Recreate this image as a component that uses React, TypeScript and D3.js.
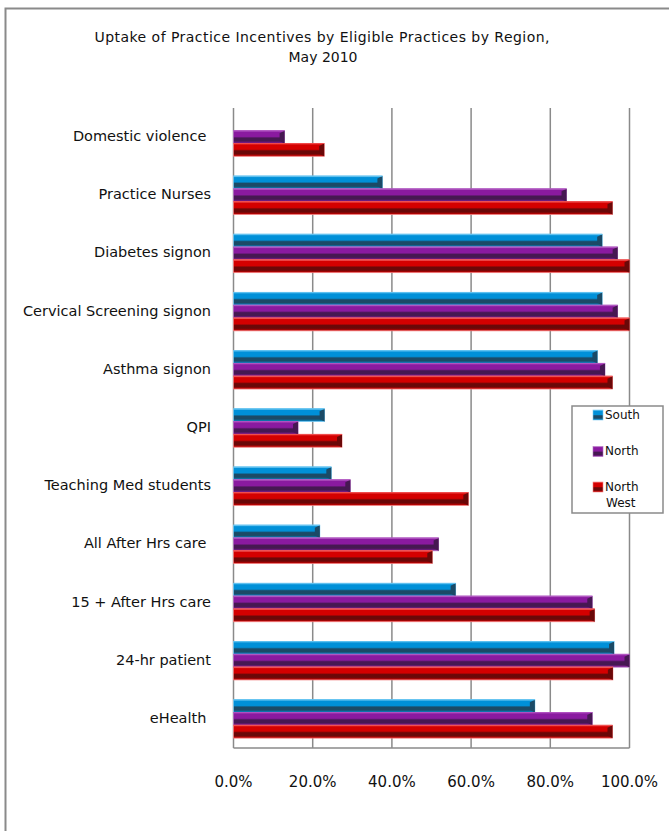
import React from 'react';
import * as d3 from 'd3';

const categories = [
  'Domestic violence ',
  'Practice Nurses',
  'Diabetes signon',
  'Cervical Screening signon',
  'Asthma signon',
  'QPI',
  'Teaching Med students',
  'All After Hrs care ',
  '15 + After Hrs care',
  '24-hr patient',
  'eHealth ',
];
const seriesNames = ['South', 'North', 'North West'];
const south = [0, 37.6, 93.1, 93.1, 91.9, 23.0, 24.7, 21.8, 56.1, 96.1, 76.1];
const north = [12.9, 84.1, 97.0, 97.0, 93.8, 16.3, 29.5, 51.8, 90.6, 100, 90.6];
const northWest = [22.9, 95.7, 100, 100, 95.7, 27.4, 59.3, 50.2, 91.2, 95.8, 95.7];
const ticks = [0, 20, 40, 60, 80, 100];

const colors = [
  { light: '#5cc0f0', main: '#0090d8', dark: '#1b4a66', edge: '#7ccaf0' },
  { light: '#b050c0', main: '#8a1aa0', dark: '#461852', edge: '#b070c0' },
  { light: '#f04848', main: '#d40000', dark: '#6a0808', edge: '#f08080' },
];

const font = '"DejaVu Sans", sans-serif';

const App = () => {
  const W = 669;
  const H = 831;
  const left = 233.5;
  const right = 629.5;
  const top = 108;
  const bottom = 748;

  const x = d3.scaleLinear().domain([0, 100]).range([left, right]);
  const y = d3.scaleBand().domain(categories).range([top, bottom]).paddingInner(0.34).paddingOuter(0.17);
  const inner = d3.scaleBand().domain(seriesNames).range([0, y.bandwidth()]);
  const data = [south, north, northWest];

  const bar = (key: string, x0: number, x1: number, yy: number, h: number, si: number) => {
    const c = colors[si];
    const w = x1 - x0;
    if (w <= 0) return null;
    const ch = Math.min(5, w / 2);
    return (
      <g key={key}>
        <rect x={x0} y={yy} width={w} height={h} fill={`url(#grad${si})`} stroke={c.edge} strokeWidth={0.8} />
        <path
          d={`M${x1 - ch},${yy + 2.5} L${x1},${yy} L${x1},${yy + h} L${x1 - ch},${yy + h - 2.5} Z`}
          fill={c.dark}
        />
        <path d={`M${x0},${yy} L${x1},${yy}`} stroke={c.light} strokeWidth={1} />
      </g>
    );
  };

  return (
    <svg width={W} height={H} style={{ position: 'absolute', left: 0, top: 0, background: '#fff' }}>
      <defs>
        {colors.map((c, i) => (
          <linearGradient key={i} id={`grad${i}`} x1="0" y1="0" x2="0" y2="1">
            <stop offset="0" stopColor={c.light} />
            <stop offset="0.12" stopColor={c.main} />
            <stop offset="0.45" stopColor={c.main} />
            <stop offset="0.58" stopColor={c.dark} />
            <stop offset="0.8" stopColor={c.dark} />
            <stop offset="1" stopColor={c.main} />
          </linearGradient>
        ))}
      </defs>
      <rect x={0} y={0} width={W} height={H} fill="#fff" />
      <rect x={5.5} y={8.5} width={W + 10} height={H + 10} fill="none" stroke="#8a8a8a" strokeWidth={2} />

      <g fontFamily={font} fontSize={14} fill="#111" textAnchor="middle">
        <text x={322} y={42} textLength={455} lengthAdjust="spacing">
          Uptake of Practice Incentives by Eligible Practices by Region,
        </text>
        <text x={323} y={62}>May 2010</text>
      </g>

      {ticks.map(t => (
        <line key={t} x1={x(t)} x2={x(t)} y1={top} y2={bottom} stroke="#8a8a8a" strokeWidth={1.5} />
      ))}
      <line x1={left} x2={right} y1={bottom} y2={bottom} stroke="#8a8a8a" strokeWidth={1.5} />

      {categories.map((cat, ci) =>
        data.map((vals, si) =>
          bar(`${ci}-${si}`, x(0), x(vals[ci]), (y(cat) as number) + (inner(seriesNames[si]) as number), inner.bandwidth(), si)
        )
      )}

      <g fontFamily={font} fontSize={14.5} fill="#111" textAnchor="end">
        {categories.map(cat => (
          <text key={cat} x={211} y={(y(cat) as number) + y.bandwidth() / 2} dominantBaseline="middle" style={{ whiteSpace: 'pre' }}>
            {cat}
          </text>
        ))}
      </g>

      <g fontFamily={font} fontSize={15} fill="#111" textAnchor="middle">
        {ticks.map(t => (
          <text key={t} x={x(t)} y={787}>{d3.format('.1f')(t)}%</text>
        ))}
      </g>

      <g>
        <rect x={572} y={406} width={91} height={107} fill="#fff" stroke="#8a8a8a" strokeWidth={1.5} />
        {seriesNames.map((s, i) => {
          const ly = [415, 451.5, 487][i];
          const c = colors[i];
          return (
            <g key={s}>
              <rect x={593} y={ly - 5} width={10} height={10} fill={`url(#grad${i})`} stroke={c.edge} strokeWidth={0.6} />
              <text x={605} y={ly} dominantBaseline="middle" fontFamily={font} fontSize={12} fill="#111">
                {s === 'North West' ? (
                  <>
                    <tspan x={605}>North</tspan>
                    <tspan x={606} dy={16}>West</tspan>
                  </>
                ) : s}
              </text>
            </g>
          );
        })}
      </g>
    </svg>
  );
};

export default App;
